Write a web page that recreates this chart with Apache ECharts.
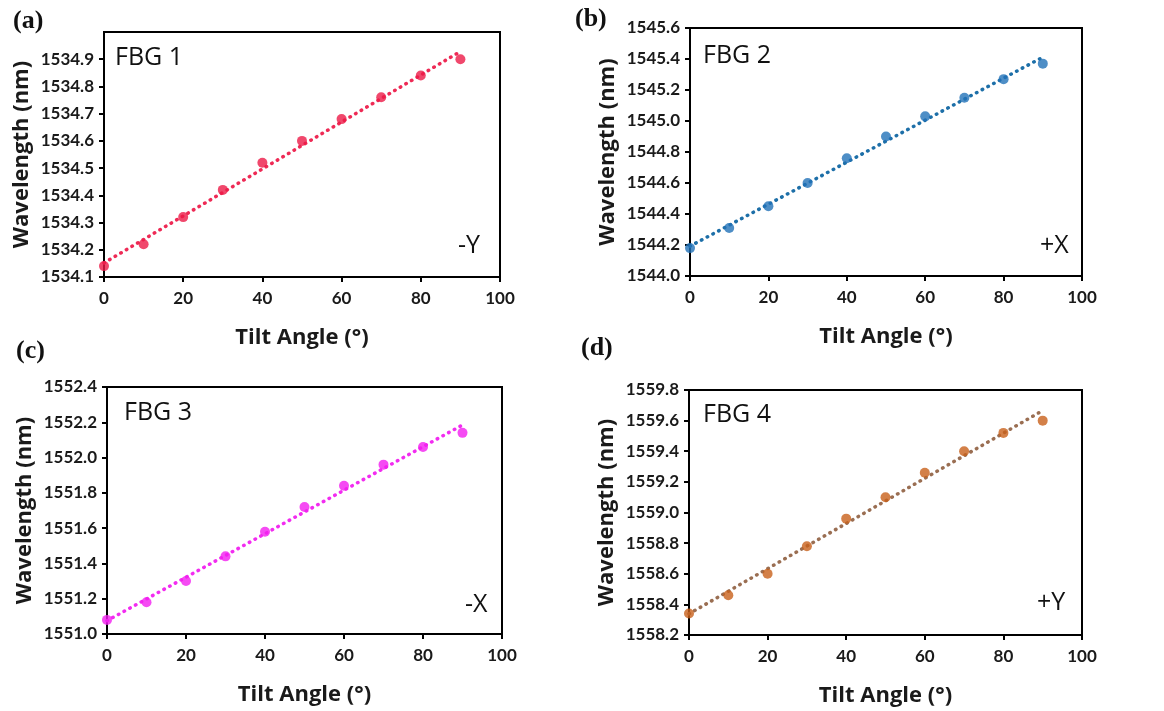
<!DOCTYPE html>
<html>
<head>
    <meta charset="utf-8"/>
    <title>FBG tilt</title>
    <script src="https://cdn.jsdelivr.net/npm/echarts@6/dist/echarts.min.js"></script>
    <style>
        html, body { margin: 0; padding: 0; background: #fff; }
        #main { width: 1164px; height: 711px; }
    </style>
</head>
<body>
<div id="main"></div>
<script>
    // 倾斜角度
    var angles = [0, 10, 20, 30, 40, 50, 60, 70, 80, 90];
    // 四个光栅的波长 (nm)
    var fbg1 = [1534.14, 1534.22, 1534.32, 1534.42, 1534.52, 1534.60, 1534.68, 1534.76, 1534.84, 1534.90];
    var fbg2 = [1544.18, 1544.31, 1544.45, 1544.60, 1544.76, 1544.90, 1545.03, 1545.15, 1545.27, 1545.37];
    var fbg3 = [1551.08, 1551.18, 1551.30, 1551.44, 1551.58, 1551.72, 1551.84, 1551.96, 1552.06, 1552.14];
    var fbg4 = [1558.34, 1558.46, 1558.60, 1558.78, 1558.96, 1559.10, 1559.26, 1559.40, 1559.52, 1559.60];
    // y轴范围
    var yMins = [1534.1, 1544.0, 1551.0, 1558.2];
    var yMaxs = [1535.0, 1545.6, 1552.4, 1559.8];
    var yIntervals = [0.1, 0.2, 0.2, 0.2];
    var panelTags = ['(a)', '(b)', '(c)', '(d)'];
    var fbgNames = ['FBG 1', 'FBG 2', 'FBG 3', 'FBG 4'];
    var directions = ['-Y', '+X', '-X', '+Y'];

    var allData = [fbg1, fbg2, fbg3, fbg4];
    var dotColors = ['#ec1a47', '#2272b8', '#f21ef0', '#c8601a'];
    var lineColors = ['#ee2a55', '#1d6fa8', '#f22cf0', '#9a6e52'];

    // 每个子图的位置
    var grids = [
        {left: 104, top: 32, width: 396, height: 245},
        {left: 690, top: 28, width: 392, height: 248},
        {left: 107, top: 387, width: 395, height: 247},
        {left: 689, top: 390, width: 393, height: 245}
    ];

    // 线性拟合（趋势线）
    function fit(xs, ys) {
        var n = xs.length, mx = 0, my = 0;
        for (var i = 0; i < n; i++) { mx += xs[i]; my += ys[i]; }
        mx /= n; my /= n;
        var sxy = 0, sxx = 0;
        for (var j = 0; j < n; j++) {
            sxy += (xs[j] - mx) * (ys[j] - my);
            sxx += (xs[j] - mx) * (xs[j] - mx);
        }
        var k = sxy / sxx;
        return function (x) { return my + k * (x - mx); };
    }

    var labelFont = {color: '#1a1a1a', fontSize: 17, fontWeight: 'bold', fontFamily: 'Lato'};
    var titleFont = {color: '#1a1a1a', fontSize: 22, fontWeight: 'bold', fontFamily: 'Open Sans'};

    var gridList = [], xAxes = [], yAxes = [], series = [], graphics = [];
    for (var p = 0; p < 4; p++) {
        var g = grids[p];
        gridList.push({
            left: g.left, top: g.top, width: g.width, height: g.height,
            show: true, borderColor: '#000', borderWidth: 2
        });
        xAxes.push({
            gridIndex: p, type: 'value', min: 0, max: 100, interval: 20,
            name: 'Tilt Angle (°)', nameLocation: 'middle', nameGap: 50,
            nameTextStyle: titleFont,
            axisLine: {lineStyle: {color: '#000', width: 2}},
            axisTick: {show: true, inside: false, length: 5, lineStyle: {color: '#000', width: 2}},
            axisLabel: Object.assign({margin: 13}, labelFont),
            splitLine: {show: false}
        });
        yAxes.push({
            gridIndex: p, type: 'value', min: yMins[p], max: yMaxs[p], interval: yIntervals[p],
            name: 'Wavelength (nm)', nameLocation: 'middle', nameGap: 71,
            nameTextStyle: titleFont,
            axisLine: {lineStyle: {color: '#000', width: 2}},
            axisTick: {show: true, inside: false, length: 5, lineStyle: {color: '#000', width: 2}},
            axisLabel: Object.assign({
                margin: 10,
                showMaxLabel: p !== 0,
                formatter: function (v) { return v.toFixed(1); }
            }, labelFont),
            splitLine: {show: false}
        });

        var ys = allData[p];
        var f = fit(angles, ys);
        var x0 = angles[0], x1 = angles[angles.length - 1];
        series.push({
            type: 'line', xAxisIndex: p, yAxisIndex: p,
            data: [[x0, f(x0)], [x1, f(x1)]],
            showSymbol: false, silent: true,
            lineStyle: {color: lineColors[p], width: 3.5, type: [0.5, 6], cap: 'round'},
            z: 2
        });
        series.push({
            type: 'scatter', xAxisIndex: p, yAxisIndex: p,
            data: angles.map(function (a, i) { return [a, ys[i]]; }),
            symbol: 'circle', symbolSize: 10,
            itemStyle: {color: dotColors[p]},
            z: 3
        });
    }

    // 子图标签、FBG 名称、方向
    var tagPos = [[13, 8], [575, 6], [16, 338], [581, 335]];
    var fbgPos = [[115, 45], [703, 43], [124, 400], [703, 402]];
    var dirPos = [[458, 233], [1040, 233], [465, 592], [1037, 590]];
    for (var q = 0; q < 4; q++) {
        graphics.push({
            type: 'text', left: tagPos[q][0], top: tagPos[q][1],
            style: {text: panelTags[q], fill: '#111', font: 'bold 26px "Liberation Serif"'}
        });
        graphics.push({
            type: 'text', left: fbgPos[q][0], top: fbgPos[q][1],
            style: {text: fbgNames[q], fill: '#111', font: '25px "Open Sans"'}
        });
        graphics.push({
            type: 'text', left: dirPos[q][0], top: dirPos[q][1],
            style: {text: directions[q], fill: '#111', font: '25px "Open Sans"'}
        });
    }

    var chart = echarts.init(document.getElementById('main'));
    chart.setOption({
        animation: false,
        backgroundColor: '#fff',
        grid: gridList,
        xAxis: xAxes,
        yAxis: yAxes,
        series: series,
        graphic: graphics
    });
</script>
</body>
</html>
